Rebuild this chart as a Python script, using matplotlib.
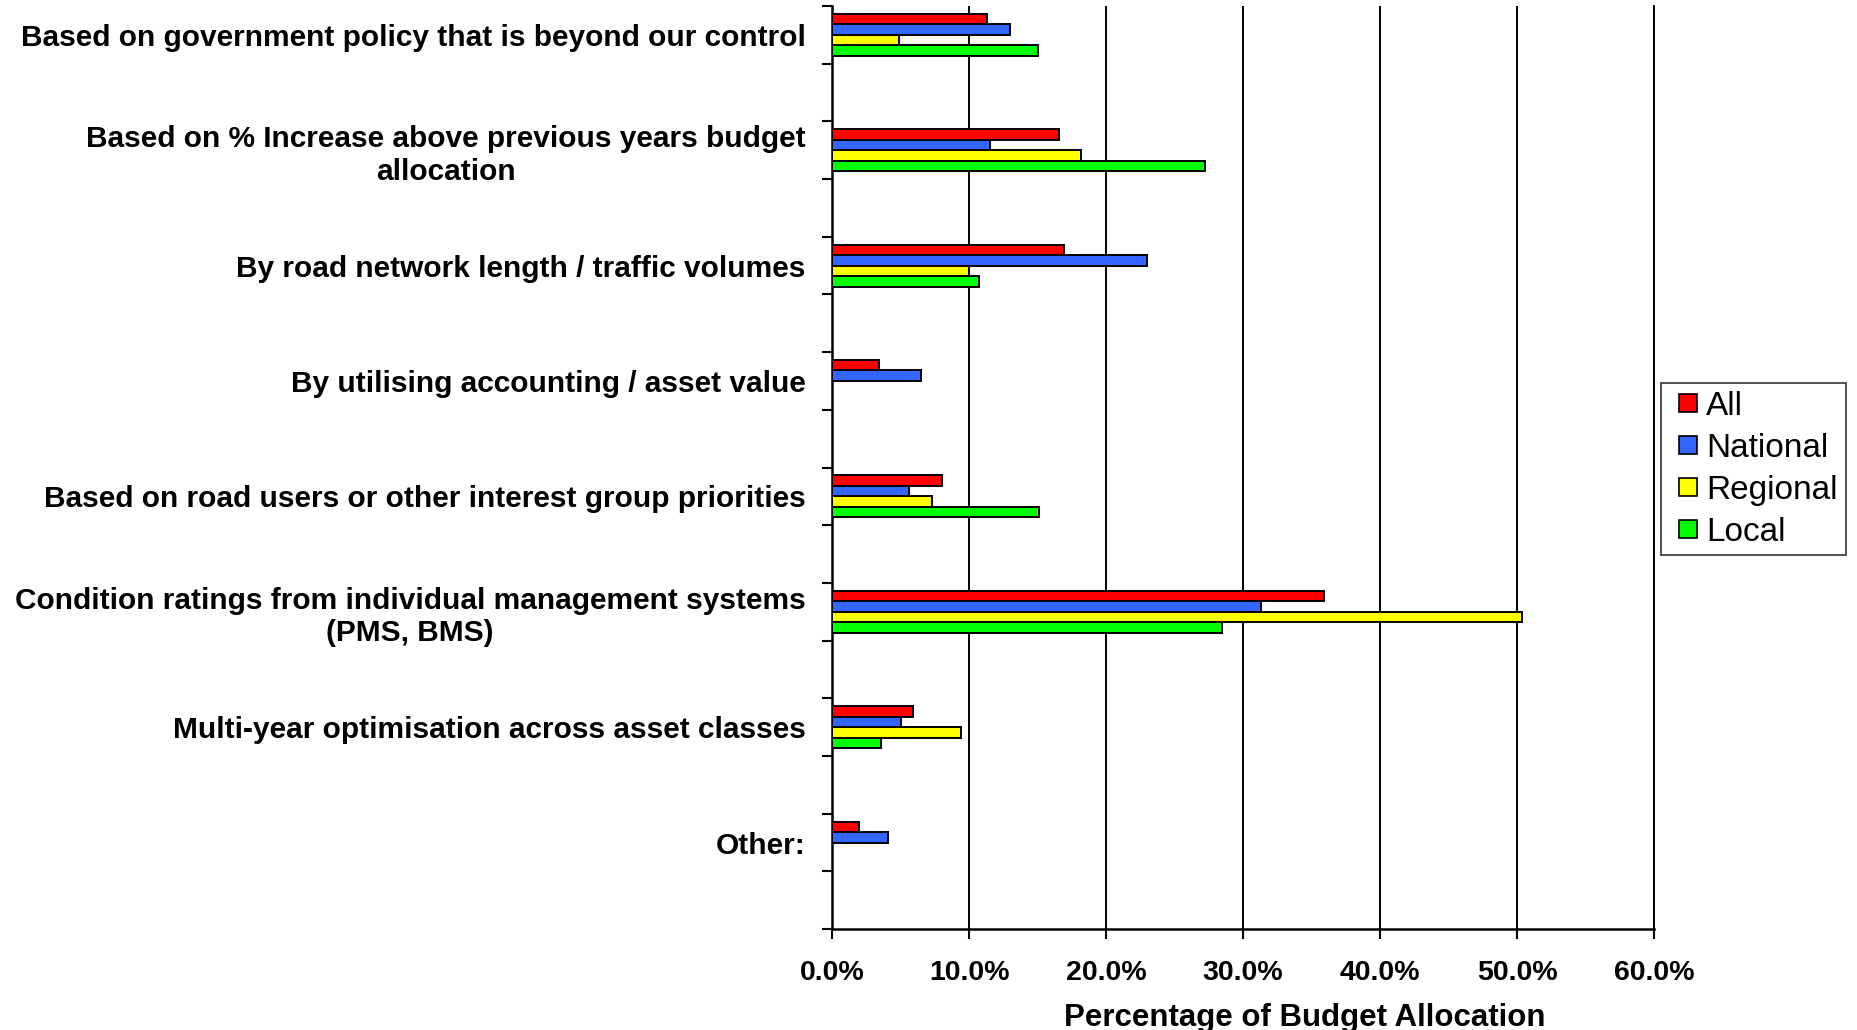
import numpy as np
import matplotlib
matplotlib.use("Agg")
import matplotlib.pyplot as plt
from matplotlib.patches import Patch, Rectangle
from matplotlib.legend_handler import HandlerPatch
from matplotlib.ticker import FixedLocator

plt.rcParams['font.family'] = ['Liberation Sans', 'DejaVu Sans']

categories = [
    "Based on government policy that is beyond our control",
    "Based on % Increase above previous years budget\nallocation",
    "By road network length / traffic volumes",
    "By utilising accounting / asset value",
    "Based on road users or other interest group priorities",
    "Condition ratings from individual management systems\n(PMS, BMS)",
    "Multi-year optimisation across asset classes",
    "Other:",
]
series_names = ["All", "National", "Regional", "Local"]
all_vals = [11.3, 16.6, 16.9, 3.4, 8.0, 35.9, 5.9, 2.0]
national_vals = [13.0, 11.5, 23.0, 6.5, 5.6, 31.3, 5.0, 4.1]
regional_vals = [4.9, 18.2, 10.0, 0.0, 7.3, 50.4, 9.4, 0.0]
local_vals = [15.0, 27.2, 10.7, 0.0, 15.1, 28.5, 3.6, 0.0]
colors = ["#ff0000", "#3366ff", "#ffff00", "#00ff00"]
x_ticks = [0, 10, 20, 30, 40, 50, 60]


def square_key(legend, orig_handle, xdescent, ydescent, width, height, fontsize):
    # small square pushed to the right side of the handle box
    return Rectangle((-xdescent + width - height, -ydescent), height, height)


fig = plt.figure(figsize=(18.58, 10.30), dpi=100)
ax = fig.add_axes([0.4478, 0.098, 0.4424, 0.8962])

# every category sits in the upper of two slots, the lower one stays empty
n = len(categories)
centers = np.arange(n) * 2 + 0.5
bar_h = 0.182
for k, (vals, col) in enumerate(zip([all_vals, national_vals, regional_vals, local_vals], colors)):
    vals = np.array(vals)
    keep = vals > 0
    ys = centers + (k - 1.5) * bar_h
    ax.barh(ys[keep], vals[keep], height=bar_h, color=col,
            edgecolor="black", linewidth=1.4, zorder=3)

ax.set_ylim(2 * n, 0)
ax.set_xlim(0, 60)

# vertical gridlines
ax.set_xticks(x_ticks)
ax.set_xticklabels([f"{v:.1f}%" for v in x_ticks], fontsize=20.5, fontweight="bold")
ax.grid(axis="x", color="black", linewidth=1.4, zorder=1)
ax.tick_params(axis="x", length=7, width=1.5, pad=15, direction="out")

ax.set_yticks(centers)
ax.set_yticklabels(categories, fontsize=21.5, fontweight="bold")
for lab in ax.get_yticklabels():
    lab.set_multialignment("center")
ax.yaxis.set_minor_locator(FixedLocator(np.arange(0, 2 * n + 1)))
ax.tick_params(axis="y", which="major", length=0, pad=19)
ax.tick_params(axis="y", which="minor", length=7, width=1.5, direction="out")

ax.spines["top"].set_visible(False)
ax.spines["right"].set_linewidth(1.4)
for side in ["left", "bottom"]:
    ax.spines[side].set_linewidth(1.8)
    ax.spines[side].set_color("black")

fig.text(0.702, 0.004, "Percentage of Budget Allocation", fontsize=22.5,
         fontweight="bold", ha="center", va="baseline")

handles = [Patch(facecolor=c, edgecolor="black", linewidth=1.2) for c in colors]
leg = fig.legend(handles, series_names, loc="upper left",
                 bbox_to_anchor=(0.894, 0.628), fontsize=24,
                 frameon=True, fancybox=False, shadow=False,
                 handler_map={Patch: HandlerPatch(patch_func=square_key)},
                 handlelength=0.85, handleheight=0.46, handletextpad=0.28,
                 labelspacing=0.33, borderpad=0.23, borderaxespad=0)
leg.get_frame().set_edgecolor("black")
leg.get_frame().set_linewidth(1.2)

fig.savefig("out.png", dpi=100)
